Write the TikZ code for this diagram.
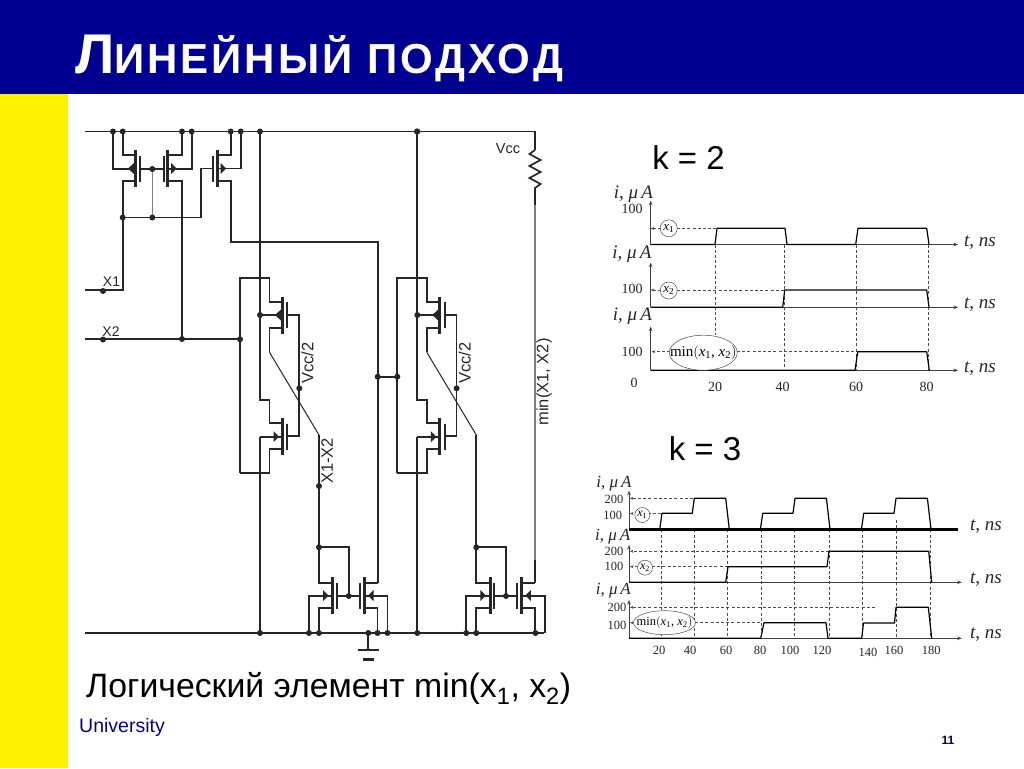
\documentclass[tikz,border=0pt]{standalone}
\usepackage{fontspec}
\setmainfont{Liberation Sans}
\newfontfamily\serifchart{Liberation Serif}
\newfontfamily\titlefont[LetterSpace=7]{Liberation Sans}
\usetikzlibrary{arrows.meta,shapes.geometric}
\definecolor{navyhead}{HTML}{000090}
\definecolor{wire}{HTML}{262626}
\definecolor{greywire}{HTML}{7F7F7F}
\tikzset{
  wireline/.style={draw=wire,line width=1.7pt,line join=miter},
  thinwire/.style={draw=wire,line width=1pt},
  greyline/.style={draw=greywire,line width=1.6pt},
  bar/.style={draw=wire,line width=3pt},
  jdot/.style={fill=wire},
  ctext/.style={inner sep=0pt,text=wire,font=\fontsize{14}{15}\selectfont},
  rtext/.style={ctext,rotate=90,font=\fontsize{16.5}{17}\selectfont},
  wave/.style={draw=black,line width=1.2pt,line join=round},
  axisline/.style={draw=black!75,line width=0.8pt,-{Stealth[length=4.5pt,width=3.6pt]}},
  guide/.style={draw=black!70,line width=0.5pt,dash pattern=on 3pt off 2.2pt},
  guidearrow/.style={guide,-{Stealth[length=3.5pt,width=3pt]}},
  clabel/.style={inner sep=0pt,text=black!85,font=\serifchart\fontsize{14}{15}\selectfont},
  calabel/.style={inner sep=0pt,text=black!85,font=\serifchart\fontsize{19}{20}\selectfont},
  dlabel/.style={inner sep=0pt,text=black!85,font=\serifchart\fontsize{12.5}{13}\selectfont},
  dalabel/.style={inner sep=0pt,text=black!85,font=\serifchart\fontsize{17}{18}\selectfont},
  tag/.style={draw=black!70,line width=0.5pt,fill=white,inner sep=0pt},
  ovaltag/.style={draw=black!70,line width=0.5pt,fill=white},
  bigtext/.style={inner sep=0pt,anchor=base west,text=black,font=\fontsize{33.8}{36}\selectfont},
}
\newcommand{\fetbody}[5]{%
  \draw[bar] (#1,#3-18.5) -- (#1,#3+18.5);
  \draw[bar,line width=2pt] (#2,#3-13) -- (#2,#3+13);
  \fill[wire] (#4,#3) -- (#5,#3-5.5) -- (#5,#3+5.5) -- cycle;
}
\newcommand{\jn}[2]{\fill[jdot] (#1,#2) circle (3);}
\newcommand{\muA}{\textit{i}, \textit{μ\,A}}
\newcommand{\tns}{\textit{t}, \textit{ns}}
\newcommand{\cellpart}[1]{%
  \draw[wireline] (260,131.5) -- (260,400) -- (269.5,400) -- (269.5,423) -- (282.3,423);
  \draw[wireline] (260,436.7) -- (260,633);
  \draw[wireline] (260,315) -- (282.3,315);
  \draw[wireline] (260,436.7) -- (282.3,436.7);
  \draw[wireline] (240,473) -- (240,278.3) -- (269.5,278.3) -- (269.5,302.3) -- (282.3,302.3);
  \draw[wireline] (282.3,449) -- (269.5,449) -- (269.5,473) -- (240,473);
  \draw[wireline] (282.3,327.7) -- (269.5,327.7) -- (269.5,352.3);
  \draw[thinwire] (269.5,352.3) -- (319,435);
  \draw[wireline] (319,435) -- (319,583.3) -- (332.7,583.3);
  \draw[wireline] (287.3,315) -- (299.3,315) -- (299.3,435.7) -- (287.3,435.7);
  \fetbody{282.3}{287.3}{315}{275}{281}
  \fetbody{282.3}{287.3}{436.7}{279}{273.5}
  \jn{260}{131.5}\jn{260}{315}\jn{299.3}{388.3}\jn{260}{633}
  \node[rtext] (#1vcc) at (307.5,363) {Vcc/2};
  \draw[wireline] (319,547.3) -- (348.7,547.3) -- (348.7,596);
  \draw[wireline] (309,633) -- (309,596) -- (332.7,596);
  \draw[wireline] (332.7,607.7) -- (319,607.7) -- (319,633);
  \draw[wireline] (336,596) -- (360.7,596);
  \draw[wireline] (377.5,583.3) -- (364,583.3);
  \draw[wireline] (364,607.7) -- (377.5,607.7) -- (377.5,633);
  \draw[wireline] (364,596) -- (387.5,596) -- (387.5,633);
  \fetbody{332.7}{336.8}{595.5}{328.5}{323}
  \fetbody{364}{360}{595.5}{368}{373.5}
  \jn{319}{547.3}\jn{348.7}{596}\jn{309}{633}\jn{319}{633}
}
\begin{document}
\begin{tikzpicture}[x=1pt,y=-1pt]
\useasboundingbox (0,0) rectangle (1024,768);
\fill[white] (0,0) rectangle (1024,768);
\fill[navyhead] (0,0) rectangle (1024,94);
\fill[yellow] (0,94) rectangle (68,768);
\node[inner sep=0pt,anchor=base west,text=white] (title) at (75,73.5)
  {\titlefont\bfseries{\fontsize{56}{58}\selectfont Л}{\fontsize{42}{44}\selectfont ИНЕЙНЫЙ ПОДХОД}};

% rails
\draw[wireline] (85,131.5) -- (535,131.5) -- (535,150);
\draw[wireline] (85,633) -- (544,633);
% current mirror group
\draw[wireline] (113,131.5) -- (113,169) -- (135,169);
\draw[wireline] (122.7,131.5) -- (122.7,155) -- (135,155);
\draw[wireline] (135,180.7) -- (122.7,180.7) -- (122.7,290) -- (85,290);
\draw[wireline] (139.3,169) -- (164,169);
\draw[greyline,line width=1.2pt] (152.3,169) -- (152.3,217.5);
\draw[wireline] (122.7,217.5) -- (200.7,217.5) -- (200.7,168.5) -- (213.3,168.5);
\draw[wireline] (182,131.5) -- (182,155) -- (167.7,155);
\draw[wireline] (167.7,180.7) -- (182,180.7) -- (182,339);
\draw[wireline] (191.7,131.5) -- (191.7,169) -- (167.7,169);
\draw[wireline] (230.7,131.5) -- (230.7,155) -- (217.3,155);
\draw[wireline] (240.7,131.5) -- (240.7,168.5) -- (217.3,168.5);
\draw[wireline] (217.3,180.7) -- (230.7,180.7) -- (230.7,241.7) -- (377.7,241.7) -- (377.7,583.3);
\fetbody{135}{139.5}{168.5}{128}{134}
\fetbody{167.7}{163.5}{168.5}{176.5}{171}
\fetbody{217.3}{213}{168.5}{226}{220.5}
\draw[wireline] (85,339) -- (240,339);
\foreach \p/\q in {113/131.5,122.7/131.5,182/131.5,191.7/131.5,230.7/131.5,240.7/131.5,417/131.5,
  152.3/169,122.7/217.5,152.3/217.5,103/291,103/339.5,182/339,240/339.3,377.7/376.7,397.3/376.7,319/486,
  368.3/633,377.5/633,387.5/633,535.5/633}{\jn{\p}{\q}}
\draw[wireline] (377.7,376.7) -- (397.3,376.7);

\cellpart{a}
\begin{scope}[shift={(157.3,0)}]
\cellpart{b}
\end{scope}

% resistor and output
\draw[wireline] (535,150) -- (529.5,154) -- (540.5,160) -- (529.5,166) -- (540.5,172) -- (529.5,178) -- (540.5,184) -- (535,188) -- (535,205);
\draw[greyline] (535,205) -- (535,560);
\draw[wireline] (535,560) -- (535,583.3);
% ground
\draw[wireline] (368.3,633) -- (368.3,650);
\draw[wireline] (357.7,650) -- (378.7,650);
\draw[wire,line width=2.2pt] (362.7,659.5) -- (374,659.5);

\node[ctext] (x1) at (111.5,282) {X1};
\node[ctext] (x2) at (111,331.5) {X2};
\node[ctext,font=\fontsize{14.5}{15}\selectfont] (vcc) at (508,148.5) {Vcc};
\node[rtext] (x12) at (327,461) {X1-X2};
\node[rtext] (minx) at (544,382) {min(X1, X2)};

% ===== k = 2 =====
\node[inner sep=0pt,font=\fontsize{33}{34}\selectfont] (k2) at (688.5,158) {k = 2};
\foreach \x/\yy in {715/335,784/367,856.7/370,928/370}{\draw[guide] (\x,244.5) -- (\x,\yy);}
\draw[axisline] (650.7,244.5) -- (650.7,200.7);
\draw[axisline] (650.7,244.5) -- (958,244.5);
\draw[axisline] (650.7,307.3) -- (650.7,262.7);
\draw[axisline] (650.7,307.3) -- (958,307.3);
\draw[axisline] (650.7,370.3) -- (650.7,326.7);
\draw[axisline] (650.7,370.3) -- (958,370.3);
\draw[guidearrow] (677,228.5) -- (650.7,228.5);
\draw[guide] (677,228.5) -- (717,228.5);
\draw[guidearrow] (677,290) -- (650.7,290);
\draw[guide] (677,290) -- (784.7,290);
\draw[guidearrow] (670,351.7) -- (651.7,351.7);
\draw[guide] (737,351.7) -- (857.7,351.7);
\draw[wave] (650.7,244.5) -- (715,244.5) -- (717,228.3) -- (785,228.3) -- (787,244.5) -- (855.7,244.5) -- (858,228.3) -- (926.7,228.3) -- (929,244.5);
\draw[wave] (650.7,307.3) -- (782.7,307.3) -- (784.7,290) -- (926.7,290) -- (929,307.3);
\draw[wave] (650.7,370.3) -- (855,370.3) -- (857.7,351.7) -- (926.7,351.7) -- (929.3,370.3);
\node[tag,circle,minimum size=17pt,font=\serifchart\fontsize{13}{14}\selectfont] (c1) at (668.7,228.3) {\textit{x}\textsubscript{1}};
\node[tag,circle,minimum size=17pt,font=\serifchart\fontsize{13}{14}\selectfont] (c2) at (668.7,290.5) {\textit{x}\textsubscript{2}};
\path[ovaltag] (703.3,352.7) ellipse [x radius=34, y radius=17.5];
\node[inner sep=0pt,font=\serifchart\fontsize{15}{16}\selectfont] (c3) at (703.3,352.7) {min$\bigl($\textit{x}\textsubscript{1}, \textit{x}\textsubscript{2}$\bigr)$};
\node[calabel] (l1) at (633.5,194) {\muA};
\node[calabel] (l2) at (632,254) {\muA};
\node[calabel] (l3) at (632.5,316.7) {\muA};
\node[clabel] (v1) at (632,209) {100};
\node[clabel] (v2) at (632,289) {100};
\node[clabel] (v3) at (632,351.7) {100};
\node[clabel] (v0) at (634,383) {0};
\foreach \x/\t in {715/20,782.7/40,856/60,926.7/80}{\node[clabel] at (\x,387) {\t};}
\node[calabel] (t1) at (980,242.7) {\tns};
\node[calabel] (t2) at (980,305) {\tns};
\node[calabel] (t3) at (980,369) {\tns};

% ===== k = 3 =====
\node[inner sep=0pt,font=\fontsize{33}{34}\selectfont] (k3) at (705,449) {k = 3};
\foreach \x/\ya in {661/529.3,694.3/529.3,727.3/529.3,761.7/529.3,794.3/529.3,829/529.3,862.7/529.3,896/520,930/529.3}{\draw[guide] (\x,\ya) -- (\x,638.3);}
\draw[axisline] (629,529.3) -- (629,490.7);
\draw[black,line width=2.6pt] (629,529.3) -- (958,529.3);
\draw[axisline] (629,582.3) -- (629,545);
\draw[axisline] (629,582.3) -- (961.7,582.3);
\draw[axisline] (629,638.3) -- (629,600);
\draw[axisline] (629,638.3) -- (961.7,638.3);
\draw[guidearrow] (693,498.3) -- (630,498.3);
\draw[guidearrow] (638,513.5) -- (630,513.5);
\draw[guide] (648,513.5) -- (662,513.5);
\draw[guidearrow] (829,551.3) -- (630,551.3);
\draw[guidearrow] (638,566.7) -- (630,566.7);
\draw[guide] (652,566.7) -- (728,566.7);
\draw[guidearrow] (875,607.3) -- (630,607.3);
\draw[guidearrow] (636,622.7) -- (630,622.7);
\draw[guide] (695,622.7) -- (762,622.7);
\foreach \s in {0,100.7,201.7}{%
  \draw[wave,shift={(\s,0)}] (659.7,529.3) -- (662,513.3) -- (692.3,513.3) -- (694.3,498.3) -- (725.7,498.3) -- (729.3,529.3);
}
\draw[wave] (629,582.3) -- (725.7,582.3) -- (728,566.7) -- (827,566.7) -- (829,551.3) -- (928.7,551.3) -- (931.7,582.3);
\draw[wave] (629,638.3) -- (760.7,638.3) -- (764,622.7) -- (826,622.7) -- (828,638.3) -- (861.7,638.3) -- (863.5,623) -- (894.5,623) -- (896,607.3) -- (928.3,607.3) -- (931.7,638.3);
\node[tag,circle,minimum size=15pt,font=\serifchart\fontsize{12}{13}\selectfont] (d1) at (642.3,515) {\textit{x}\textsubscript{1}};
\node[tag,circle,minimum size=15pt,font=\serifchart\fontsize{12}{13}\selectfont] (d2) at (645,567.7) {\textit{x}\textsubscript{2}};
\path[ovaltag] (664.5,622.7) ellipse [x radius=31, y radius=12];
\node[inner sep=0pt,font=\serifchart\fontsize{12.5}{13}\selectfont] (d3) at (664.5,622.7) {min$\bigl($\textit{x}\textsubscript{1}, \textit{x}\textsubscript{2}$\bigr)$};
\node[dalabel] (m1) at (614,484) {\muA};
\node[dalabel] (m2) at (612.7,536.7) {\muA};
\node[dalabel] (m3) at (613.3,590.7) {\muA};
\foreach \yy/\xx/\t in {499/614/200,515.7/612.7/100,551/614/200,566/614/100,607.3/617/200,625.7/617/100}{\node[dlabel] at (\xx,\yy) {\t};}
\foreach \x/\yy/\t in {659/650/20,690/650/40,726/650/60,760/650/80,790/650/100,822/650/120,868/652/140,894/650/160,931.3/650/180}{\node[dlabel] at (\x,\yy) {\t};}
\node[calabel] (n1) at (986,527) {\tns};
\node[calabel] (n2) at (986,580) {\tns};
\node[calabel] (n3) at (986,635) {\tns};

% footer
\node[bigtext] (cap) at (86,697) {Логический элемент min(x\textsubscript{1}, x\textsubscript{2})};
\node[inner sep=0pt,anchor=base west,text=navyhead,font=\fontsize{19.5}{21}\selectfont] (uni) at (79,732) {University};
\node[inner sep=0pt,text=navyhead!60!black,font=\bfseries\fontsize{12}{13}\selectfont] (pg) at (948,740) {11};
\end{tikzpicture}
\end{document}
